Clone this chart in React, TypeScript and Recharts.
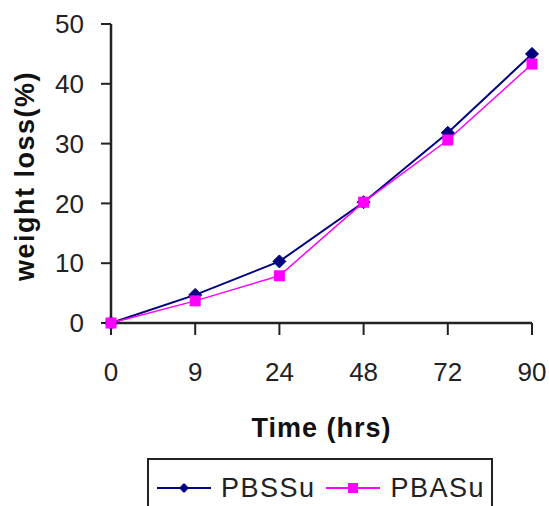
import React from 'react';
import { LineChart, Line, XAxis, YAxis, Legend } from 'recharts';

const categories = ['0', '9', '24', '48', '72', '90'];
const pbssu = [0, 4.7, 10.3, 20.2, 31.8, 45.0];
const pbasu = [0, 3.7, 7.9, 20.2, 30.6, 43.3];
const yTicks = [0, 10, 20, 30, 40, 50];

const NAVY = '#000080';
const MAGENTA = '#FF00FF';
const AXIS = '#222222';
const FONT = '"Liberation Sans", Arial, sans-serif';

const data = categories.map((t, i) => ({ time: t, PBSSu: pbssu[i], PBASu: pbasu[i] }));

const Diamond = (props: any) => {
  const { cx, cy, index } = props;
  if (cx == null || cy == null) return <g key={`d${index}`} />;
  const r = 6.5;
  return (
    <path
      key={`d${index}`}
      d={`M${cx},${cy - r} L${cx + r},${cy} L${cx},${cy + r} L${cx - r},${cy} Z`}
      fill={NAVY}
      stroke={NAVY}
      strokeWidth={1}
    />
  );
};

const Square = (props: any) => {
  const { cx, cy, index } = props;
  if (cx == null || cy == null) return <g key={`s${index}`} />;
  const r = 5.5;
  return <rect key={`s${index}`} x={cx - r} y={cy - r} width={2 * r} height={2 * r} fill={MAGENTA} />;
};

const LegendIcon = ({ color, kind }: { color: string; kind: string }) => (
  <svg width={54} height={20} style={{ display: 'block' }}>
    <line x1={0} y1={10} x2={54} y2={10} stroke={color} strokeWidth={2} />
    {kind === 'diamond' ? (
      <path d="M27,5 L32,10 L27,15 L22,10 Z" fill={color} />
    ) : (
      <rect x={22} y={5} width={10} height={10} fill={color} />
    )}
  </svg>
);

const LegendContent = () => (
  <div
    style={{
      boxSizing: 'border-box',
      width: 346,
      height: 56,
      border: `2px solid ${AXIS}`,
      display: 'flex',
      alignItems: 'flex-start',
      paddingTop: 12,
      paddingLeft: 8,
      fontFamily: FONT,
      fontSize: 27,
      letterSpacing: 1.5,
      color: '#222',
      background: '#fff',
    }}
  >
    <div style={{ marginTop: 6 }}>
      <LegendIcon color={NAVY} kind="diamond" />
    </div>
    <span style={{ marginLeft: 10, lineHeight: '32px' }}>PBSSu</span>
    <div style={{ marginTop: 6, marginLeft: 10 }}>
      <LegendIcon color={MAGENTA} kind="square" />
    </div>
    <span style={{ marginLeft: 11, lineHeight: '32px' }}>PBASu</span>
  </div>
);

const YLabel = (props: any) => {
  const vb = props.viewBox || {};
  const x = 25;
  const y = (vb.y ?? 24) + (vb.height ?? 299) / 2 + 2.5;
  return (
    <text
      x={x}
      y={y}
      transform={`rotate(-90, ${x}, ${y})`}
      textAnchor="middle"
      dominantBaseline="central"
      fontFamily={FONT}
      fontWeight="bold"
      fontSize={27}
      letterSpacing={1.5}
      fill="#111"
    >
      weight loss(%)
    </text>
  );
};

const XLabel = (props: any) => {
  const vb = props.viewBox || {};
  const x = (vb.x ?? 111) + (vb.width ?? 421) / 2;
  const y = (vb.y ?? 323) + 114;
  return (
    <text
      x={x}
      y={y}
      textAnchor="middle"
      fontFamily={FONT}
      fontWeight="bold"
      fontSize={27}
      letterSpacing={1}
      fill="#111"
    >
      Time (hrs)
    </text>
  );
};

export default function App() {
  return (
    <div
      style={{
        position: 'fixed',
        left: 0,
        top: 0,
        width: 549,
        height: 506,
        background: '#fff',
        overflow: 'hidden',
      }}
    >
      <LineChart width={549} height={506} data={data} margin={{ top: 24, right: 17, left: 0, bottom: 0 }}>
        <XAxis
          dataKey="time"
          type="category"
          padding={{ left: 0, right: 0 }}
          axisLine={{ stroke: AXIS, strokeWidth: 2.5 }}
          tickLine={{ stroke: AXIS, strokeWidth: 2 }}
          tickSize={12}
          tickMargin={28}
          height={127}
          interval={0}
          tick={{ fill: '#222', fontSize: 26, fontFamily: FONT }}
          label={{ content: (p: any) => <XLabel {...p} /> }}
        />
        <YAxis
          domain={[0, 50]}
          ticks={yTicks}
          interval={0}
          width={111}
          axisLine={{ stroke: AXIS, strokeWidth: 2.5 }}
          tickLine={{ stroke: AXIS, strokeWidth: 2 }}
          tickSize={10}
          tickMargin={17}
          tick={{ fill: '#222', fontSize: 26, fontFamily: FONT }}
          label={{ content: (p: any) => <YLabel {...p} /> }}
        />
        <Legend
          verticalAlign="bottom"
          content={() => <LegendContent />}
          wrapperStyle={{ left: 147, width: 346, bottom: -8 }}
        />
        <Line
          dataKey="PBSSu"
          stroke={NAVY}
          strokeWidth={2}
          dot={(p: any) => <Diamond {...p} />}
          activeDot={false}
          isAnimationActive={false}
        />
        <Line
          dataKey="PBASu"
          stroke={MAGENTA}
          strokeWidth={1.5}
          dot={(p: any) => <Square {...p} />}
          activeDot={false}
          isAnimationActive={false}
        />
      </LineChart>
    </div>
  );
}
